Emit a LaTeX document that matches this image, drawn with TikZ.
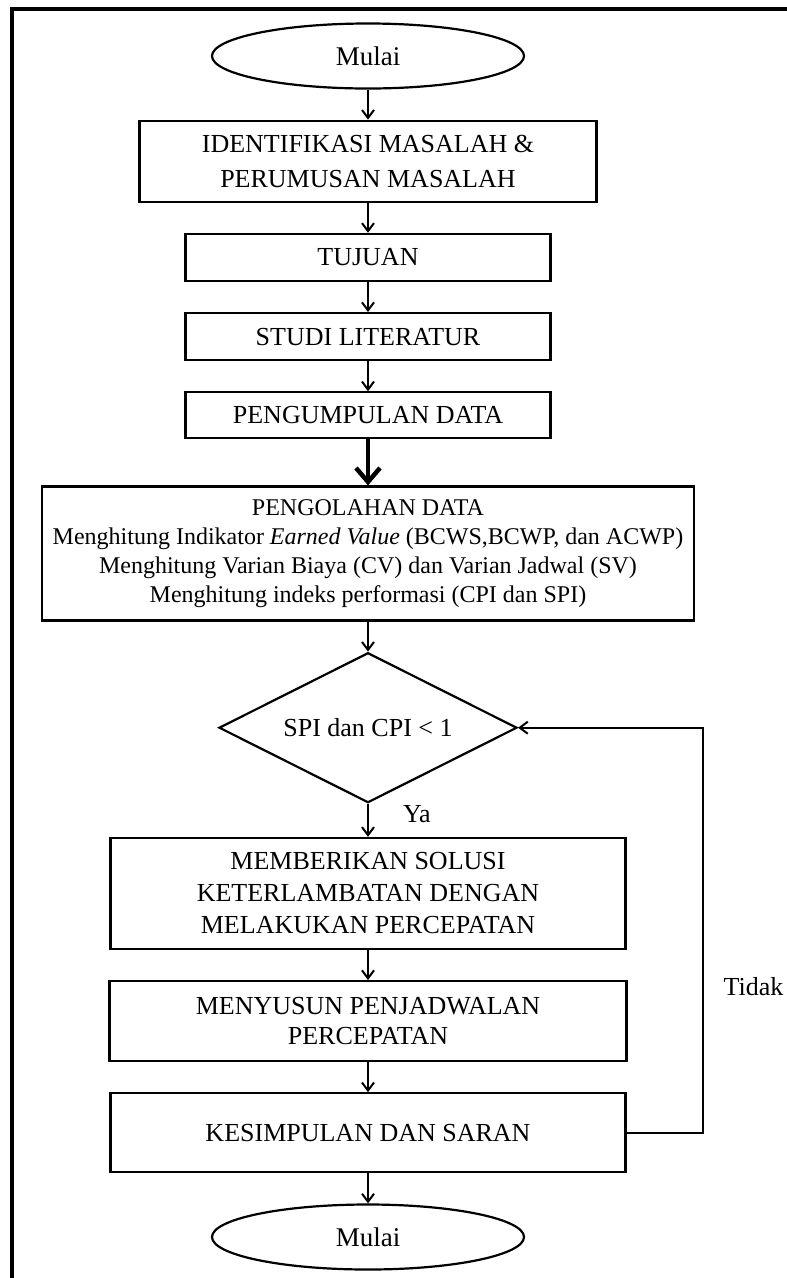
\documentclass[tikz,border=0pt]{standalone}
\usepackage{fontspec}
\setmainfont{Liberation Serif}
\usetikzlibrary{shapes.geometric, positioning, arrows.meta}

\begin{document}
\begin{tikzpicture}[x=1pt, y=-1pt, node distance=30pt,
	kotak/.style={draw, line width=2.2pt, align=center, inner sep=0pt, font=\fontsize{26}{32}\selectfont},
	terminal/.style={kotak, ellipse, minimum width=312pt, minimum height=65pt, font=\fontsize{27}{32}\selectfont},
	keputusan/.style={kotak, diamond, aspect=2, minimum width=298pt, minimum height=150pt},
	teks/.style={inner sep=0pt, font=\fontsize{26}{32}\selectfont}]

			\useasboundingbox (0,0) rectangle (787,1278);
			\draw[line width=4pt] (11.5,1278) -- (11.5,8.5) -- (787,8.5);

			\node[terminal] (mulai) at (368,56) {Mulai};
			\node[kotak, minimum width=457pt, minimum height=81pt, font=\fontsize{26}{35}\selectfont, below=of mulai] (identifikasi) {IDENTIFIKASI MASALAH \&\\PERUMUSAN MASALAH};
			\node[kotak, minimum width=365pt, minimum height=47pt, below=of identifikasi] (tujuan) {TUJUAN};
			\node[kotak, minimum width=365pt, minimum height=47pt, below=of tujuan] (studi) {STUDI LITERATUR};
			\node[kotak, minimum width=365pt, minimum height=46pt, below=of studi] (pengumpulan) {PENGUMPULAN DATA};
			\node[kotak, minimum width=652pt, minimum height=134pt, font=\fontsize{24}{29}\selectfont, below=46pt of pengumpulan] (pengolahan) {PENGOLAHAN DATA\\Menghitung Indikator \textit{Earned Value} (BCWS,BCWP, dan ACWP)\\Menghitung Varian Biaya (CV) dan Varian Jadwal (SV)\\Menghitung indeks performasi (CPI dan SPI)};
			\node[keputusan, below=of pengolahan] (cek) {SPI dan CPI < 1};
			\node[kotak, minimum width=515pt, minimum height=111pt, below=33pt of cek] (solusi) {MEMBERIKAN SOLUSI\\KETERLAMBATAN DENGAN\\MELAKUKAN PERCEPATAN};
			\node[kotak, minimum width=517pt, minimum height=80pt, font=\fontsize{26}{30}\selectfont, below=of solusi] (jadwal) {MENYUSUN PENJADWALAN\\PERCEPATAN};
			\node[kotak, minimum width=515pt, minimum height=79pt, below=of jadwal] (kesimpulan) {KESIMPULAN DAN SARAN};
			\node[terminal, below=of kesimpulan] (selesai) {Mulai};

			\draw[->, >={Straight Barb[length=8pt, width=12pt]}, line width=2pt]
			(mulai) edge (identifikasi)
			(identifikasi) edge (tujuan)
			(tujuan) edge (studi)
			(studi) edge (pengumpulan)
			(pengumpulan) edge[line width=4.5pt, >={Straight Barb[length=14pt, width=24pt]}] (pengolahan)
			(pengolahan) edge (cek)
			(cek) edge node[teks, right=34pt, pos=0.3] {Ya} (solusi)
			(solusi) edge (jadwal)
			(jadwal) edge (kesimpulan)
			(kesimpulan) edge (selesai);

			\draw[->, >={Straight Barb[length=8pt, width=12pt]}, line width=2pt]
			(kesimpulan.east) -- ++(76,0) |- node[teks, right=20pt, pos=0.18] {Tidak} (cek.east);

\end{tikzpicture}
\end{document}
